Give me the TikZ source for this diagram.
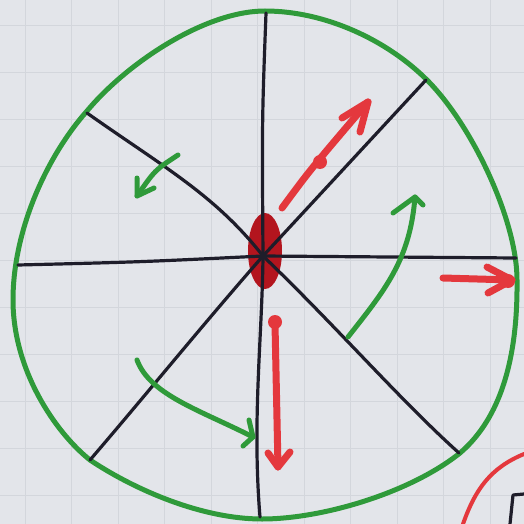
\documentclass[tikz,border=0pt]{standalone}
\usetikzlibrary{calc,shapes.geometric}
\definecolor{paper}{HTML}{E3E5EA}
\definecolor{gridc}{HTML}{D3D6DC}
\definecolor{mgreen}{HTML}{2F9A3A}
\definecolor{mred}{HTML}{E4383D}
\definecolor{dred}{HTML}{B3151E}
\definecolor{ink}{HTML}{1E1D2A}
\tikzset{
  spoke/.style={draw=ink, line width=3.2pt, line cap=round, line join=round},
  rim/.style={draw=mgreen, line width=5pt},
  garrow/.style={draw=mgreen, line width=5pt, line cap=round, line join=round},
  rarrow/.style={draw=mred, line width=7pt, line cap=round, line join=round},
  rdot/.style={fill=mred, draw=none},
}
\begin{document}
\begin{tikzpicture}[x=1pt,y=-1pt]
\useasboundingbox (0,0) rectangle (524,524);
\fill[paper] (0,0) rectangle (524,524);
% grid paper
\foreach \gx in {25,71.5,...,524} \draw[gridc, line width=0.8pt] (\gx,0) -- (\gx,524);
\foreach \gy in {25,72,...,524} \draw[gridc, line width=0.8pt] (0,\gy) -- (524,\gy);
% rim
\draw[rim] (265,11) .. controls (325,11) and (387,40) .. (427,80)
  .. controls (472,125) and (517,220) .. (517,280)
  .. controls (518,370) and (495,423) .. (460,453)
  .. controls (410,493) and (322,519) .. (262,519)
  .. controls (202,519) and (135,490) .. (90,460)
  .. controls (55,432) and (13,370) .. (13,300)
  .. controls (13,230) and (47,156) .. (87,111)
  .. controls (127,63) and (205,11) .. cycle;
% centre
\node[ellipse, fill=dred, minimum width=34pt, minimum height=76pt, inner sep=0pt] (hub) at (265,251) {};
\coordinate (c) at (263,256);
% spokes
\coordinate (sT) at (266,13);  \coordinate (sB) at (260,517);
\coordinate (sL) at (18,265);  \coordinate (sR) at (516,258);
\coordinate (sUL) at (87,113); \coordinate (sLR) at (459,453);
\coordinate (sUR) at (426,80); \coordinate (sLL) at (90,460);
\draw[spoke] (sT) .. controls (262,120) .. (c) .. controls (262,340) and (252,420) .. (sB);
\draw[spoke] (sL) .. controls (140,262) .. (c) -- (sR);
\draw[spoke] (sUL) .. controls (165,168) and (215,195) .. (c) .. controls (335,325) and (400,400) .. (sLR);
\draw[spoke] (sUR) -- (c) .. controls (205,322) and (150,390) .. (sLL);
% red arrows
\coordinate (r1s) at (282,208); \coordinate (r1t) at (368,102);
\draw[rarrow] (r1s) .. controls (310,170) .. (r1t);
\draw[rarrow] (342,118) -- (r1t) -- (360,132);
\fill[rdot] (320,162) circle (7pt);
\coordinate (r2s) at (443,278); \coordinate (r2t) at (512,280);
\draw[rarrow] (r2s) -- (r2t);
\draw[rarrow] (487,267) -- (r2t) -- (488,293);
\fill[rdot] (508,281) circle (7pt);
\coordinate (r3s) at (275,324); \coordinate (r3t) at (278,467);
\draw[rarrow] (r3s) -- (r3t);
\draw[rarrow] (268,453) -- (r3t) -- (290,452);
\fill[rdot] (275,322) circle (7pt);
% green arrows
\coordinate (g1s) at (178,155); \coordinate (g1t) at (137,196);
\draw[garrow] (g1s) .. controls (155,170) .. (g1t);
\draw[garrow] (137,178) -- (g1t) -- (154,188);
\coordinate (g2s) at (348,337); \coordinate (g2t) at (415,197);
\draw[garrow] (g2s) .. controls (385,290) and (410,260) .. (g2t);
\draw[garrow] (393,213) -- (g2t) -- (423,205);
\coordinate (g3s) at (137,360); \coordinate (g3t) at (253,437);
\draw[garrow] (g3s) .. controls (150,395) and (200,410) .. (g3t);
\draw[garrow] (249,420) -- (g3t) -- (243,446);
% bottom-right corner fragments
\draw[draw=mred, line width=4pt, line cap=round] (524,454) .. controls (490,468) and (475,490) .. (463,524);
\draw[spoke] (524,494) -- (513,495) -- (510,524);
\end{tikzpicture}
\end{document}
